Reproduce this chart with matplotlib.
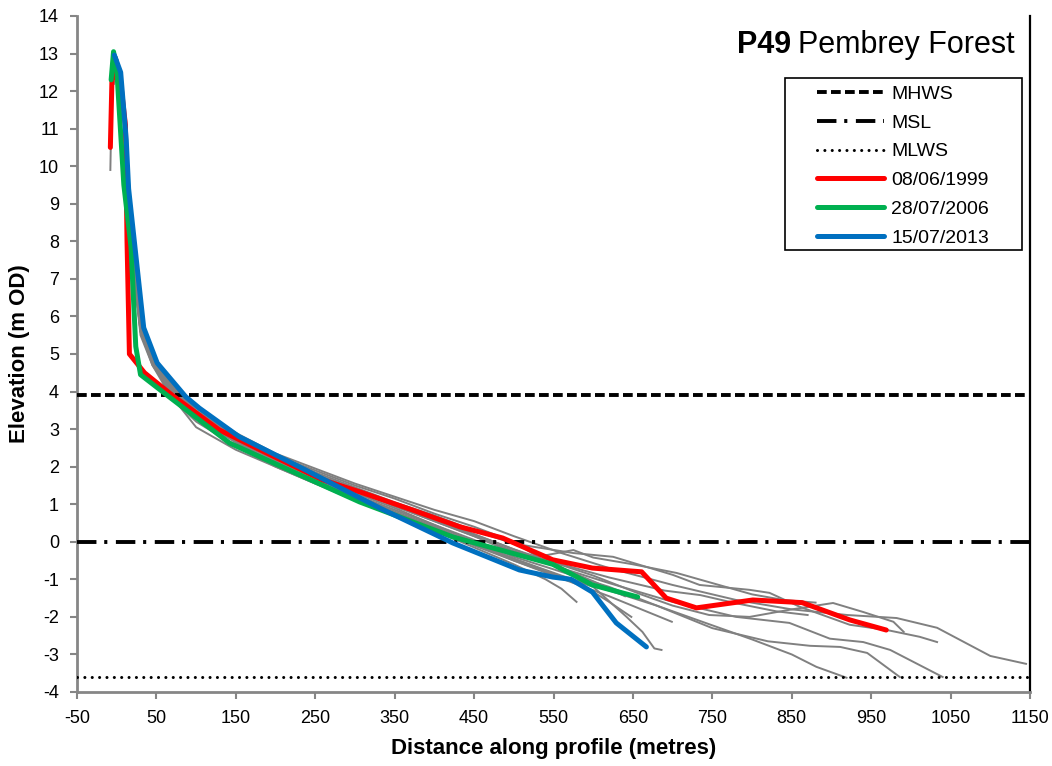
import matplotlib
matplotlib.use("Agg")
import matplotlib.pyplot as plt
from matplotlib.patches import Rectangle

plt.rcParams["font.family"] = ["Liberation Sans", "DejaVu Sans"]
plt.rcParams["axes.unicode_minus"] = False

# Tidal levels (m OD)
MHWS = 3.9
MSL = 0.0
MLWS = -3.6

# Highlighted surveys: distance along profile (m) and elevation (m OD)
dates = ["08/06/1999", "28/07/2006", "15/07/2013"]
colors = ["#FF0000", "#00B050", "#0070C0"]

dist_1999 = [-8, -6, -1, 4, 11, 13, 16, 35, 70, 129, 188, 259, 306, 372, 432, 486,
             549, 599, 661, 692, 730, 801, 863, 923, 969]
elev_1999 = [10.5, 12.3, 12.5, 12.4, 11.1, 8.0, 5.0, 4.5, 3.9, 2.98, 2.37, 1.65, 1.33,
             0.85, 0.4, 0.1, -0.48, -0.7, -0.8, -1.5, -1.76, -1.55, -1.62, -2.08, -2.35]

dist_2006 = [-7, -4, 0, 9, 18, 24, 30, 66, 142, 264, 306, 423, 549, 599, 656]
elev_2006 = [12.3, 13.05, 12.6, 9.5, 7.85, 5.2, 4.45, 3.86, 2.63, 1.46, 1.06, 0.13,
             -0.6, -1.15, -1.47]

dist_2013 = [-3, 5, 12, 15, 34, 51, 87, 104, 154, 238, 306, 331, 423, 507, 549, 572,
             599, 629, 667]
elev_2013 = [12.96, 12.5, 10.7, 9.4, 5.7, 4.76, 3.86, 3.56, 2.8, 1.91, 1.17, 0.9, -0.03,
             -0.75, -0.94, -1.0, -1.34, -2.16, -2.8]

# Other surveys (plotted in grey)
upper_dist = [-4, 0, 6, 12, 20, 30, 45, 70, 100, 150, 200, 250, 300, 350, 400, 450, 500]

other_surveys = [
    (upper_dist + [560, 620, 700, 780, 850, 920, 982, 1033, 1100, 1145],
     [12.2, 12.9, 12.4, 10.9, 7.9, 5.9, 5.0, 4.2, 3.6, 2.9, 2.35, 1.95, 1.55, 1.2, 0.85, 0.55, 0.15,
      -0.3, -0.7, -1.15, -1.55, -1.8, -1.95, -2.03, -2.29, -3.04, -3.25]),
    (upper_dist + [575, 625, 700, 734, 797, 822, 860, 923, 970, 1011, 1033],
     [12.3, 12.8, 12.3, 10.7, 7.7, 5.8, 4.9, 4.1, 3.5, 2.8, 2.3, 1.85, 1.45, 1.05, 0.7, 0.3, -0.05,
      -0.3, -0.4, -0.88, -1.15, -1.28, -1.36, -1.73, -2.21, -2.35, -2.53, -2.67]),
    (upper_dist + [550, 600, 660, 700, 746, 797, 850, 902, 940, 978, 991],
     [12.3, 12.85, 12.3, 10.5, 7.5, 5.6, 4.8, 4.0, 3.4, 2.75, 2.2, 1.75, 1.35, 1.0, 0.6, 0.2, -0.2,
      -0.55, -0.9, -1.4, -1.7, -1.95, -2.0, -1.8, -1.63, -1.87, -2.13, -2.4]),
    (upper_dist + [560, 620, 700, 780, 847, 898, 940, 974, 1040],
     [12.4, 12.9, 12.4, 10.8, 7.8, 5.8, 4.9, 4.05, 3.45, 2.8, 2.25, 1.8, 1.4, 0.95, 0.55, 0.15, -0.3,
      -0.7, -1.1, -1.6, -2.0, -2.16, -2.58, -2.67, -2.88, -3.6]),
    (upper_dist + [560, 620, 680, 750, 820, 873, 911, 945, 986],
     [12.2, 12.8, 12.2, 10.4, 7.4, 5.5, 4.7, 3.95, 3.35, 2.7, 2.15, 1.7, 1.3, 0.9, 0.45, 0.05, -0.4,
      -0.8, -1.2, -1.7, -2.3, -2.65, -2.77, -2.8, -2.96, -3.6]),
    (upper_dist + [560, 620, 680, 720, 800, 850, 881, 919],
     [12.3, 12.85, 12.3, 10.6, 7.6, 5.7, 4.8, 4.0, 3.4, 2.75, 2.2, 1.7, 1.25, 0.85, 0.45, 0.0, -0.45,
      -0.9, -1.3, -1.7, -2.0, -2.6, -3.0, -3.33, -3.62]),
    (upper_dist + [550, 600, 642, 662, 677, 686],
     [12.4, 12.9, 12.3, 10.6, 7.7, 5.75, 4.85, 3.95, 3.3, 2.65, 2.1, 1.65, 1.25, 0.8, 0.4, -0.05, -0.45,
      -0.85, -1.2, -2.0, -2.4, -2.84, -2.88]),
    (upper_dist + [550, 620, 699],
     [12.3, 12.8, 12.2, 10.5, 7.5, 5.6, 4.75, 3.85, 3.05, 2.45, 2.0, 1.55, 1.15, 0.75, 0.35, -0.1, -0.5,
      -0.9, -1.45, -2.13]),
    (upper_dist + [540, 560, 579],
     [12.2, 12.8, 12.2, 10.4, 7.5, 5.6, 4.7, 3.8, 3.2, 2.55, 2.0, 1.55, 1.1, 0.7, 0.3, -0.15, -0.6,
      -1.0, -1.25, -1.6]),
    (upper_dist + [530, 575, 600, 650, 705, 750, 800, 840, 880],
     [12.3, 12.9, 12.4, 10.8, 7.9, 5.9, 5.0, 4.15, 3.55, 2.85, 2.3, 1.9, 1.5, 1.15, 0.75, 0.4, 0.0,
      -0.4, -0.22, -0.42, -0.6, -0.83, -1.1, -1.4, -1.55, -1.62]),
    (upper_dist + [540, 590, 620, 648],
     [12.3, 12.85, 12.3, 10.6, 7.6, 5.7, 4.8, 3.95, 3.3, 2.65, 2.1, 1.65, 1.2, 0.8, 0.4, -0.05, -0.5,
      -0.8, -1.2, -1.6, -2.0]),
    (upper_dist + [560, 620, 690, 735, 776, 830, 870],
     [12.2, 12.8, 12.3, 10.5, 7.6, 5.7, 4.8, 4.0, 3.4, 2.7, 2.2, 1.75, 1.35, 0.95, 0.55, 0.15, -0.25,
      -0.6, -0.95, -1.3, -1.42, -1.62, -1.85, -1.95]),
    ([-8, -6] + upper_dist[1:] + [560, 600, 640],
     [9.9, 12.2, 12.8, 12.3, 10.6, 7.7, 5.8, 4.9, 4.05, 3.45, 2.8, 2.25, 1.8, 1.4, 1.0, 0.6, 0.2,
      -0.2, -0.7, -1.05, -1.45]),
]

x_ticks = list(range(-50, 1151, 100))
y_ticks = list(range(-4, 15))

W, H = 1052, 766
fig = plt.figure(figsize=(W / 100, H / 100), dpi=100)
ax = fig.add_axes([77 / W, 1 - 692 / H, (1030 - 77) / W, (692 - 16) / H])

for dist, elev in other_surveys:
    ax.plot(dist, elev, color="#808080", lw=1.4, zorder=2)

lw_ref = 2.8
h_mhws = ax.axhline(MHWS, color="black", lw=lw_ref, linestyle=(0, (2.5, 1.1)), zorder=3)
h_msl = ax.axhline(MSL, color="black", lw=lw_ref, linestyle=(0, (5, 2, 0.8, 2.2)), zorder=3)
h_mlws = ax.axhline(MLWS, color="black", lw=2.2, linestyle=(0, (0.01, 2.4)),
                    dash_capstyle="round", zorder=3)

series = [(dist_1999, elev_1999), (dist_2006, elev_2006), (dist_2013, elev_2013)]
handles = []
for (dist, elev), c in zip(series, colors):
    h, = ax.plot(dist, elev, color=c, lw=3.6, solid_capstyle="round",
                 solid_joinstyle="round", zorder=4)
    handles.append(h)

ax.set_xlim(-50, 1150)
ax.set_ylim(-4, 14)
ax.set_xticks(x_ticks)
ax.set_yticks(y_ticks)
ax.tick_params(axis="both", direction="out", length=5, width=1.5, color="#868686",
               labelsize=13, labelcolor="black")
ax.tick_params(axis="x", pad=8)
ax.tick_params(axis="y", pad=8)

for side in ("left", "bottom"):
    ax.spines[side].set_color("#868686")
    ax.spines[side].set_linewidth(2)
ax.spines["top"].set_visible(False)
ax.spines["right"].set_color("black")
ax.spines["right"].set_linewidth(1.6)

ax.set_xlabel("Distance along profile (metres)", fontsize=16, fontweight="bold", labelpad=8)
ax.set_ylabel("Elevation (m OD)", fontsize=16, fontweight="bold", labelpad=6)

# Legend, with its frame drawn separately
fig.patches.append(Rectangle((785 / W, 1 - 250 / H), (1022 - 785) / W, (250 - 78) / H,
                             transform=fig.transFigure, fill=False, edgecolor="black",
                             lw=1.2, zorder=5))
leg = ax.legend([h_mhws, h_msl, h_mlws] + handles, ["MHWS", "MSL", "MLWS"] + dates,
                loc="upper left", bbox_to_anchor=(817 / W, 1 - 85 / H),
                bbox_transform=fig.transFigure, frameon=False, fontsize=14,
                handlelength=3.45, handletextpad=0.36, labelspacing=0.58, borderpad=0,
                borderaxespad=0)

# Title in the top-right corner
t = fig.text(1015 / W, 1 - 45 / H, "Pembrey Forest", fontsize=22, ha="right", va="center")
fig.canvas.draw()
ext = t.get_window_extent()
fig.text((ext.x0 - 7) / W, 1 - 45 / H, "P49", fontsize=22, fontweight="bold",
         ha="right", va="center")

fig.savefig("out.png", dpi=100)
